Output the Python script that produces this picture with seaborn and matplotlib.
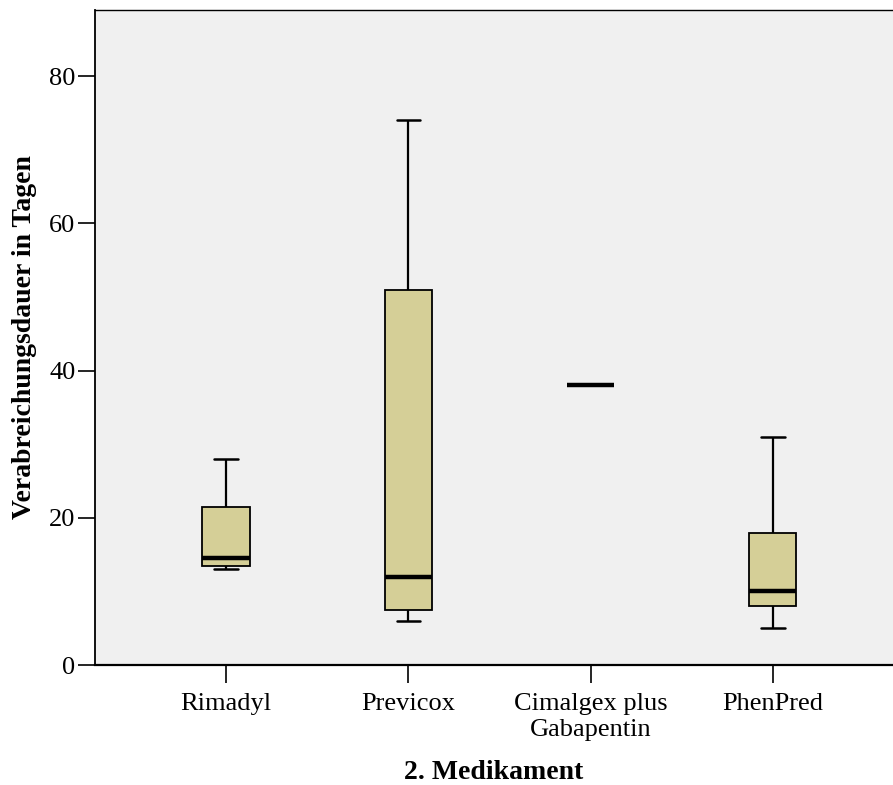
import numpy as np
import pandas as pd
import matplotlib
matplotlib.use("Agg")
import matplotlib.pyplot as plt
import seaborn as sns

# Data (min, Q1, median, Q3, max per group)
categories = ["Rimadyl", "Previcox", "Cimalgex plus\nGabapentin", "PhenPred"]
rimadyl = [13, 13.5, 14.5, 21.5, 28]
previcox = [6, 7.5, 12, 51, 74]
cimalgex = [38]
phenpred = [5, 8, 10, 18, 31]
y_ticks = [0, 20, 40, 60, 80]

groups = [rimadyl, previcox, cimalgex, phenpred]
df = pd.DataFrame({
    "Medikament": [c for c, g in zip(categories, groups) for _ in g],
    "Dauer": [v for g in groups for v in g],
})

sns.set_style("ticks")
plt.rcParams["font.family"] = ["Liberation Serif", "DejaVu Serif"]
plt.rcParams["text.color"] = "black"
plt.rcParams["axes.labelcolor"] = "black"

fig = plt.figure(figsize=(8.93, 7.85), dpi=100)
ax = fig.add_axes([95 / 893, 1 - 665 / 785, (893 - 95) / 893, (665 - 10) / 785])
ax.set_facecolor("#F0F0F0")

sns.boxplot(
    data=df, x="Medikament", y="Dauer", order=categories, ax=ax,
    color="#D5CF97", linecolor="black", linewidth=1.3, width=0.26,
    fill=True, saturation=1,
    medianprops={"linewidth": 3.2, "color": "black"},
    whiskerprops={"linewidth": 1.6},
    capprops={"linewidth": 1.8},
)

ax.set_xlim(-0.72, 3.66)
ax.set_ylim(0, 89)
ax.set_yticks(y_ticks)
ax.set_yticklabels([str(t) for t in y_ticks])
ax.grid(False)

for side in ["left", "bottom", "top", "right"]:
    ax.spines[side].set_color("black")
ax.spines["left"].set_linewidth(1.3)
ax.spines["bottom"].set_linewidth(1.6)
ax.spines["top"].set_linewidth(1.0)
ax.spines["right"].set_visible(False)

ax.tick_params(axis="y", length=12, width=1.2, labelsize=19, pad=2, colors="black")
ax.tick_params(axis="x", length=13, width=1.2, labelsize=19, pad=7, colors="black")
for lbl in ax.get_xticklabels():
    lbl.set_linespacing(1.25)

ax.set_xlabel("2. Medikament", fontsize=20, fontweight="bold", labelpad=14, color="black")
ax.set_ylabel("Verabreichungsdauer in Tagen", fontsize=20, fontweight="bold", labelpad=9, color="black")

fig.savefig("out.png", dpi=100, facecolor="white")
